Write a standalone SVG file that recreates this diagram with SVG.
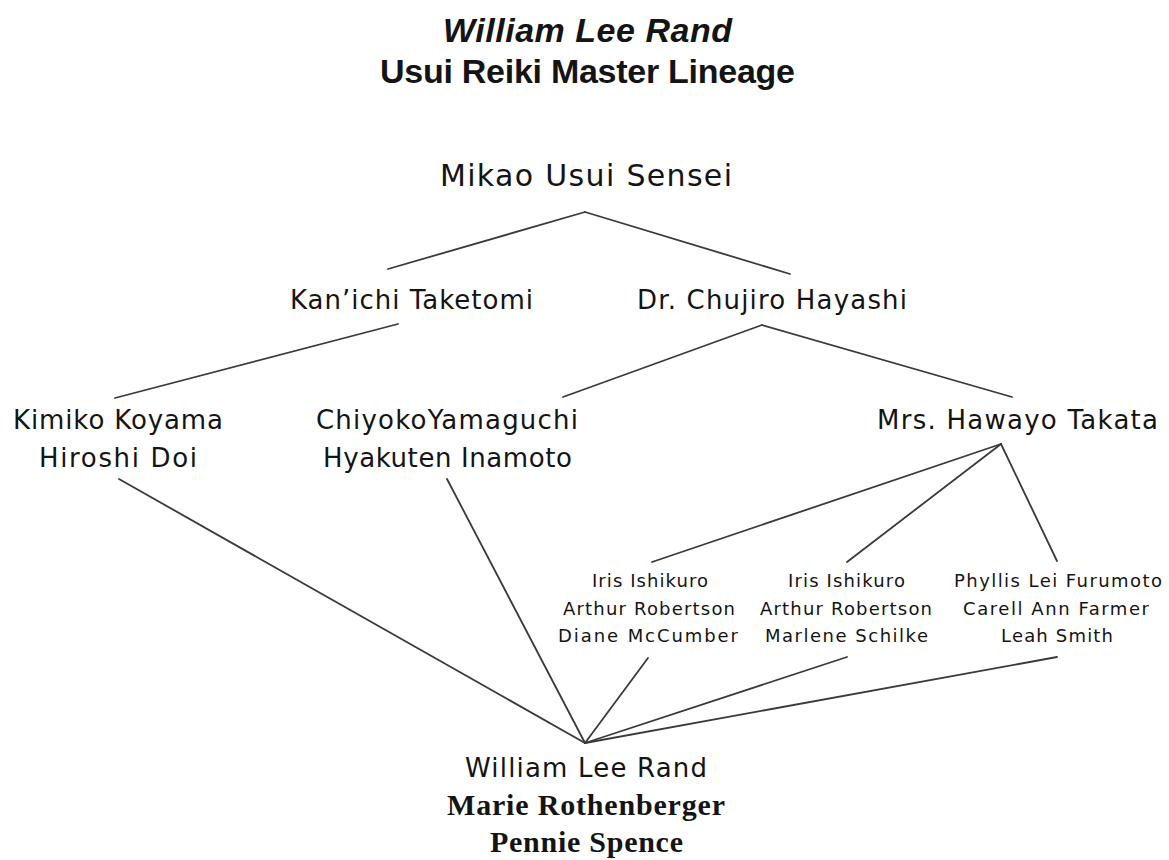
<svg xmlns="http://www.w3.org/2000/svg" width="1169" height="860" viewBox="0 0 1169 860">
<style>
text{fill:#141414}
.title{font-family:"Liberation Sans",Arial,sans-serif;font-weight:bold;font-size:34px}
.ti{font-style:italic}
.top{font-family:"DejaVu Sans",sans-serif;font-size:30px}
.nm{font-family:"DejaVu Sans",sans-serif;font-size:26px}
.sm{font-family:"DejaVu Sans",sans-serif;font-size:18px}
.sb{font-family:"Liberation Serif","Times New Roman",serif;font-weight:bold;font-size:30px}
.conn line{stroke:#3a3a3a;stroke-width:1.8;stroke-linecap:round;fill:none}
</style>
<rect width="1169" height="860" fill="#ffffff"/>
<g id="title">
<text class="title ti" x="443" y="42" textLength="289">William Lee Rand</text>
<text class="title" x="380" y="83" textLength="415">Usui Reiki Master Lineage</text>
</g>
<g id="connectors" class="conn">
<line x1="585" y1="212" x2="388" y2="269"/>
<line x1="585" y1="212" x2="790" y2="274"/>
<line x1="398" y1="324" x2="115" y2="398"/>
<line x1="762" y1="325" x2="563" y2="397"/>
<line x1="762" y1="325" x2="1012" y2="397"/>
<line x1="1001" y1="444" x2="652" y2="562"/>
<line x1="1001" y1="444" x2="847" y2="562"/>
<line x1="1001" y1="444" x2="1057" y2="561"/>
<line x1="119" y1="479" x2="585" y2="743"/>
<line x1="447" y1="479" x2="585" y2="743"/>
<line x1="648" y1="658" x2="585" y2="743"/>
<line x1="847" y1="657" x2="585" y2="743"/>
<line x1="1057" y1="657" x2="585" y2="743"/>
</g>
<g id="usui"><text class="top" x="440" y="186" textLength="292">Mikao Usui Sensei</text></g>
<g id="taketomi"><text class="nm" x="290" y="309" textLength="243">Kan’ichi Taketomi</text></g>
<g id="hayashi"><text class="nm" x="637" y="309" textLength="270">Dr. Chujiro Hayashi</text></g>
<g id="koyama">
<text class="nm" x="13" y="429" textLength="210">Kimiko Koyama</text>
<text class="nm" x="39" y="467" textLength="158">Hiroshi Doi</text>
</g>
<g id="yamaguchi">
<text class="nm" x="316" y="429" textLength="262">ChiyokoYamaguchi</text>
<text class="nm" x="323" y="467" textLength="249">Hyakuten Inamoto</text>
</g>
<g id="takata"><text class="nm" x="877" y="429" textLength="281">Mrs. Hawayo Takata</text></g>
<g id="group1">
<text class="sm" x="592" y="587" textLength="116">Iris Ishikuro</text>
<text class="sm" x="563" y="615" textLength="172">Arthur Robertson</text>
<text class="sm" x="558" y="642" textLength="180">Diane McCumber</text>
</g>
<g id="group2">
<text class="sm" x="788" y="587" textLength="117">Iris Ishikuro</text>
<text class="sm" x="760" y="615" textLength="172">Arthur Robertson</text>
<text class="sm" x="765" y="642" textLength="163">Marlene Schilke</text>
</g>
<g id="group3">
<text class="sm" x="954" y="587" textLength="208">Phyllis Lei Furumoto</text>
<text class="sm" x="963" y="615" textLength="186">Carell Ann Farmer</text>
<text class="sm" x="1001" y="642" textLength="112">Leah Smith</text>
</g>
<g id="rand">
<text class="nm" x="465" y="777" textLength="242">William Lee Rand</text>
<text class="sb" x="447" y="815" textLength="278">Marie Rothenberger</text>
<text class="sb" x="490" y="852" textLength="193">Pennie Spence</text>
</g>
</svg>
